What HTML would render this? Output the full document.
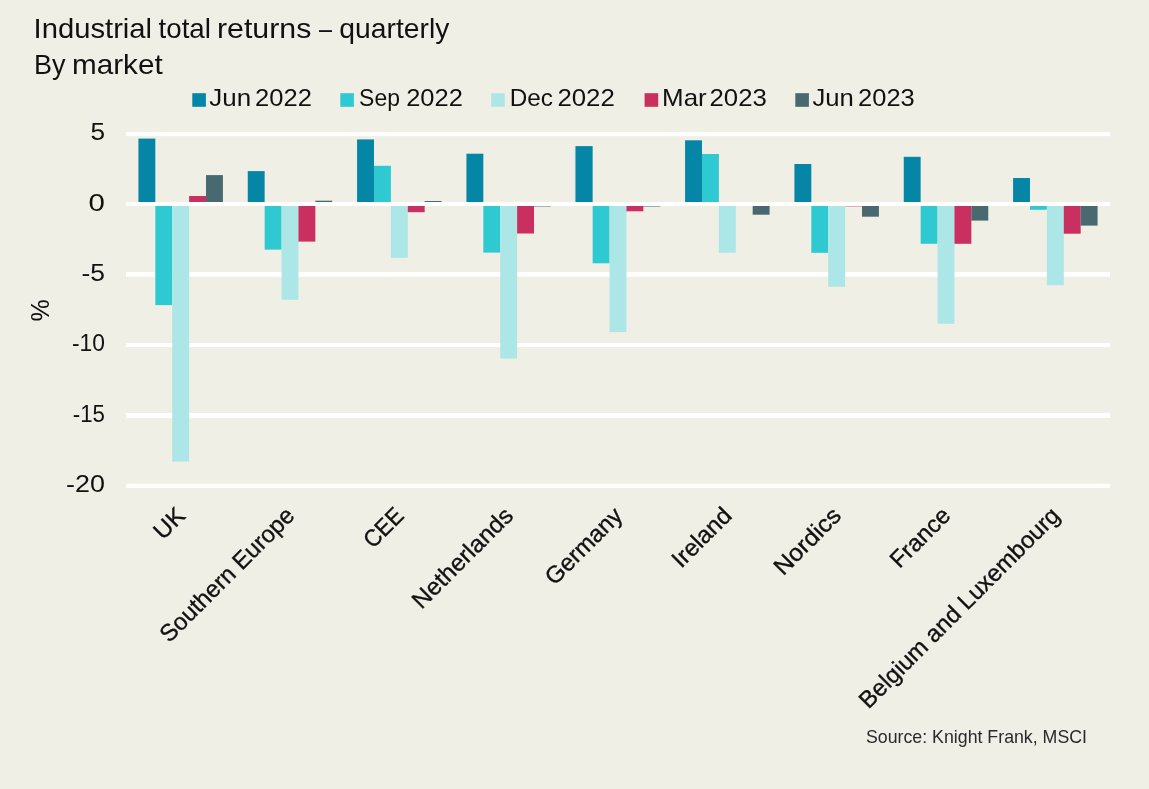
<!DOCTYPE html>
<html><head><meta charset="utf-8"><title>Industrial total returns</title>
<style>html,body{margin:0;padding:0;background:#f0efe5;}svg{display:block;will-change:transform;}text{font-family:"Liberation Sans",sans-serif;fill:#111;}</style>
</head><body>
<svg width="1149" height="789" viewBox="0 0 1149 789">
<rect x="0" y="0" width="1149" height="789" fill="#f0efe5"/>
<g fill="#ffffff">
<rect x="126.0" y="132.05" width="984.0" height="4.10"/>
<rect x="126.0" y="272.00" width="984.0" height="4.70"/>
<rect x="126.0" y="343.00" width="984.0" height="4.00"/>
<rect x="126.0" y="413.00" width="984.0" height="4.90"/>
<rect x="126.0" y="483.80" width="984.0" height="4.20"/>
</g>
<g>
<rect x="138.42" y="138.60" width="16.90" height="65.40" fill="#0586a6"/>
<rect x="155.32" y="204.00" width="16.90" height="101.10" fill="#2fc9d2"/>
<rect x="172.22" y="204.00" width="16.90" height="257.50" fill="#ace6e6"/>
<rect x="189.12" y="196.00" width="16.90" height="8.00" fill="#c9305f"/>
<rect x="206.02" y="175.10" width="16.90" height="28.90" fill="#48696f"/>
<rect x="247.75" y="171.10" width="16.90" height="32.90" fill="#0586a6"/>
<rect x="264.65" y="204.00" width="16.90" height="45.60" fill="#2fc9d2"/>
<rect x="281.55" y="204.00" width="16.90" height="95.80" fill="#ace6e6"/>
<rect x="298.45" y="204.00" width="16.90" height="37.60" fill="#c9305f"/>
<rect x="315.35" y="200.70" width="16.90" height="3.30" fill="#48696f"/>
<rect x="357.08" y="139.40" width="16.90" height="64.60" fill="#0586a6"/>
<rect x="373.98" y="165.80" width="16.90" height="38.20" fill="#2fc9d2"/>
<rect x="390.88" y="204.00" width="16.90" height="53.80" fill="#ace6e6"/>
<rect x="407.78" y="204.00" width="16.90" height="8.20" fill="#c9305f"/>
<rect x="424.68" y="201.00" width="16.90" height="3.00" fill="#48696f"/>
<rect x="466.42" y="153.70" width="16.90" height="50.30" fill="#0586a6"/>
<rect x="483.32" y="204.00" width="16.90" height="48.60" fill="#2fc9d2"/>
<rect x="500.22" y="204.00" width="16.90" height="154.50" fill="#ace6e6"/>
<rect x="517.12" y="204.00" width="16.90" height="29.50" fill="#c9305f"/>
<rect x="534.02" y="204.00" width="16.90" height="2.45" fill="#48696f"/>
<rect x="575.75" y="146.10" width="16.90" height="57.90" fill="#0586a6"/>
<rect x="592.65" y="204.00" width="16.90" height="59.30" fill="#2fc9d2"/>
<rect x="609.55" y="204.00" width="16.90" height="128.10" fill="#ace6e6"/>
<rect x="626.45" y="204.00" width="16.90" height="7.30" fill="#c9305f"/>
<rect x="643.35" y="204.00" width="16.90" height="2.50" fill="#48696f"/>
<rect x="685.08" y="140.30" width="16.90" height="63.70" fill="#0586a6"/>
<rect x="701.98" y="154.00" width="16.90" height="50.00" fill="#2fc9d2"/>
<rect x="718.88" y="204.00" width="16.90" height="48.80" fill="#ace6e6"/>
<rect x="752.68" y="204.00" width="16.90" height="10.70" fill="#48696f"/>
<rect x="794.42" y="164.00" width="16.90" height="40.00" fill="#0586a6"/>
<rect x="811.32" y="204.00" width="16.90" height="48.80" fill="#2fc9d2"/>
<rect x="828.22" y="204.00" width="16.90" height="82.80" fill="#ace6e6"/>
<rect x="845.12" y="204.00" width="16.90" height="2.35" fill="#c9305f"/>
<rect x="862.02" y="204.00" width="16.90" height="12.70" fill="#48696f"/>
<rect x="903.75" y="156.80" width="16.90" height="47.20" fill="#0586a6"/>
<rect x="920.65" y="204.00" width="16.90" height="39.80" fill="#2fc9d2"/>
<rect x="937.55" y="204.00" width="16.90" height="119.80" fill="#ace6e6"/>
<rect x="954.45" y="204.00" width="16.90" height="39.80" fill="#c9305f"/>
<rect x="971.35" y="204.00" width="16.90" height="16.60" fill="#48696f"/>
<rect x="1013.08" y="178.00" width="16.90" height="26.00" fill="#0586a6"/>
<rect x="1029.98" y="204.00" width="16.90" height="5.80" fill="#2fc9d2"/>
<rect x="1046.88" y="204.00" width="16.90" height="81.30" fill="#ace6e6"/>
<rect x="1063.78" y="204.00" width="16.90" height="29.70" fill="#c9305f"/>
<rect x="1080.68" y="204.00" width="16.90" height="21.60" fill="#48696f"/>
<rect x="574.9" y="146.1" width="1.1" height="57.9" fill="#6fb6c8"/>
</g>
<rect x="126.0" y="202" width="984.0" height="4" fill="#ffffff"/>
<text x="33.60" y="38.00" font-size="28.00" textLength="118.50" lengthAdjust="spacingAndGlyphs">Industrial</text>
<text x="158.60" y="38.00" font-size="28.00" textLength="52.30" lengthAdjust="spacingAndGlyphs">total</text>
<text x="217.00" y="38.00" font-size="28.00" textLength="94.30" lengthAdjust="spacingAndGlyphs">returns</text>
<text x="319.00" y="38.00" font-size="28.00" textLength="13.00" lengthAdjust="spacingAndGlyphs">–</text>
<text x="339.30" y="38.00" font-size="28.00" textLength="110.00" lengthAdjust="spacingAndGlyphs">quarterly</text>
<text x="34.00" y="74.00" font-size="28.00" textLength="31.50" lengthAdjust="spacingAndGlyphs">By</text>
<text x="72.00" y="74.00" font-size="28.00" textLength="90.70" lengthAdjust="spacingAndGlyphs">market</text>
<rect x="192.3" y="93.2" width="13.6" height="13.6" fill="#0586a6"/>
<rect x="340.3" y="93.2" width="13.6" height="13.6" fill="#2fc9d2"/>
<rect x="491.2" y="93.2" width="13.6" height="13.6" fill="#ace6e6"/>
<rect x="644.6" y="93.2" width="13.6" height="13.6" fill="#c9305f"/>
<rect x="795.3" y="93.2" width="13.6" height="13.6" fill="#48696f"/>
<text x="209.30" y="105.50" font-size="24.00" textLength="41.80" lengthAdjust="spacingAndGlyphs">Jun</text>
<text x="255.10" y="105.50" font-size="24.00" textLength="56.80" lengthAdjust="spacingAndGlyphs">2022</text>
<text x="359.10" y="105.50" font-size="24.00" textLength="40.80" lengthAdjust="spacingAndGlyphs">Sep</text>
<text x="406.20" y="105.50" font-size="24.00" textLength="56.70" lengthAdjust="spacingAndGlyphs">2022</text>
<text x="509.80" y="105.50" font-size="24.00" textLength="43.20" lengthAdjust="spacingAndGlyphs">Dec</text>
<text x="557.40" y="105.50" font-size="24.00" textLength="57.40" lengthAdjust="spacingAndGlyphs">2022</text>
<text x="662.10" y="105.50" font-size="24.00" textLength="44.60" lengthAdjust="spacingAndGlyphs">Mar</text>
<text x="709.50" y="105.50" font-size="24.00" textLength="57.30" lengthAdjust="spacingAndGlyphs">2023</text>
<text x="812.40" y="105.50" font-size="24.00" textLength="41.40" lengthAdjust="spacingAndGlyphs">Jun</text>
<text x="858.10" y="105.50" font-size="24.00" textLength="56.60" lengthAdjust="spacingAndGlyphs">2023</text>
<text x="90.40" y="140.05" font-size="23.80" textLength="14.60" lengthAdjust="spacingAndGlyphs">5</text>
<text x="88.60" y="210.50" font-size="23.80" textLength="16.40" lengthAdjust="spacingAndGlyphs">0</text>
<text x="81.50" y="280.95" font-size="23.80" textLength="23.50" lengthAdjust="spacingAndGlyphs">-5</text>
<text x="72.00" y="351.40" font-size="23.80" textLength="33.00" lengthAdjust="spacingAndGlyphs">-10</text>
<text x="72.80" y="421.85" font-size="23.80" textLength="32.20" lengthAdjust="spacingAndGlyphs">-15</text>
<text x="66.10" y="492.30" font-size="23.80" textLength="38.90" lengthAdjust="spacingAndGlyphs">-20</text>
<text transform="translate(49.3,310.3) rotate(-90)" text-anchor="middle" font-size="25">%</text>
<text transform="translate(186.57,517.00) rotate(-45)" x="-33.50" y="0" font-size="23.8" stroke="#111" stroke-width="0.35" textLength="33.50" lengthAdjust="spacingAndGlyphs">UK</text>
<text transform="translate(295.90,517.00) rotate(-45)" x="-179.00" y="0" font-size="23.8" stroke="#111" stroke-width="0.35" textLength="179.00" lengthAdjust="spacingAndGlyphs">Southern Europe</text>
<text transform="translate(405.23,517.00) rotate(-45)" x="-45.50" y="0" font-size="23.8" stroke="#111" stroke-width="0.35" textLength="45.50" lengthAdjust="spacingAndGlyphs">CEE</text>
<text transform="translate(514.57,517.00) rotate(-45)" x="-131.50" y="0" font-size="23.8" stroke="#111" stroke-width="0.35" textLength="131.50" lengthAdjust="spacingAndGlyphs">Netherlands</text>
<text transform="translate(623.90,517.00) rotate(-45)" x="-98.00" y="0" font-size="23.8" stroke="#111" stroke-width="0.35" textLength="98.00" lengthAdjust="spacingAndGlyphs">Germany</text>
<text transform="translate(733.23,517.00) rotate(-45)" x="-73.50" y="0" font-size="23.8" stroke="#111" stroke-width="0.35" textLength="73.50" lengthAdjust="spacingAndGlyphs">Ireland</text>
<text transform="translate(842.57,517.00) rotate(-45)" x="-84.00" y="0" font-size="23.8" stroke="#111" stroke-width="0.35" textLength="84.00" lengthAdjust="spacingAndGlyphs">Nordics</text>
<text transform="translate(951.90,517.00) rotate(-45)" x="-74.00" y="0" font-size="23.8" stroke="#111" stroke-width="0.35" textLength="74.00" lengthAdjust="spacingAndGlyphs">France</text>
<text transform="translate(1061.23,517.00) rotate(-45)" x="-272.50" y="0" font-size="23.8" stroke="#111" stroke-width="0.35" textLength="272.50" lengthAdjust="spacingAndGlyphs">Belgium and Luxembourg</text>
<text x="866.00" y="743.00" font-size="19.00" textLength="221.00" lengthAdjust="spacingAndGlyphs" style="fill:#2a2a2a">Source: Knight Frank, MSCI</text>
</svg>
</body></html>
